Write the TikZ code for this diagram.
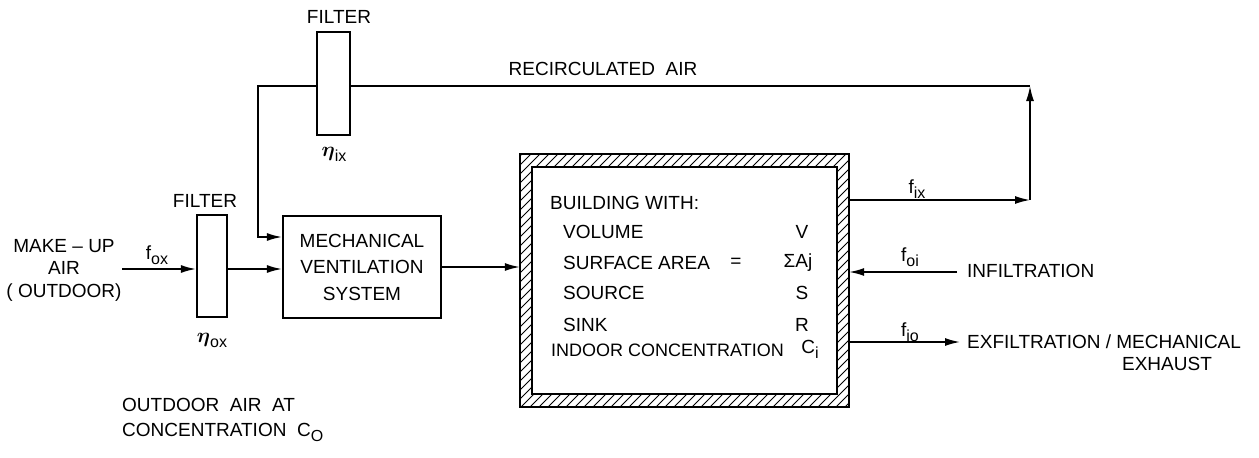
\documentclass[tikz,border=0pt]{standalone}
\usepackage{amsmath}
\usepackage{fontspec}
\setmainfont{Liberation Sans}
\usetikzlibrary{arrows.meta}
\newcommand{\lsub}[1]{\raisebox{-0.5ex}{\fontsize{16}{16}\selectfont #1}}
\newcommand{\bigeta}{{\fontsize{22}{22}\selectfont$\boldsymbol{\eta}$}}
\begin{document}
\begin{tikzpicture}[x=1pt,y=-1pt,
  lbl/.style={font=\fontsize{19}{22}\selectfont, inner sep=0pt},
  box/.style={draw, line width=2.2pt, inner sep=0pt},
  flow/.style={line width=1.6pt, -{Latex[length=15pt,width=8pt]}},
  pipe/.style={line width=1.6pt},
  hatch/.style={line width=1pt}]
\useasboundingbox (0,0) rectangle (1259,458);

% boxes
\node[box, minimum width=33pt, minimum height=103pt] (f1) at (333.5,83.5) {};
\node[box, minimum width=30pt, minimum height=102pt] (f2) at (212,266) {};
\node[box, minimum width=158pt, minimum height=102pt, align=center,
      font=\fontsize{19}{26.5}\selectfont] (mvs) at (362,267) {MECHANICAL\\VENTILATION\\SYSTEM};

% building with hatched wall
\node[minimum width=329pt, minimum height=253pt, inner sep=0pt] (bld) at (684.5,280.5) {};
\begin{scope}
  \clip (bld.north west) rectangle (bld.south east);
  \foreach \x in {257,266,...,860} \draw[hatch] (\x,410) -- (\x+263,147);
\end{scope}
\node[box, fill=white, minimum width=305pt, minimum height=227pt] (inner) at (684.5,280.5) {};
\draw[line width=2.2pt] (bld.north west) rectangle (bld.south east);

% coordinates
\coordinate (mu) at (122,269);
\coordinate (rc) at (1030,86);
\coordinate (rl) at (258,86);
\coordinate (rin) at (258,237);
\coordinate (cx) at (1030,200);
\coordinate (inf) at (957,272);
\coordinate (exf) at (960,342);

% connectors
\draw[flow] (mu) -- (mu -| f2.west);
\draw[flow] (f2.east |- mu) -- (mu -| mvs.west);
\draw[pipe] (rc) -- (f1.east |- rc);
\draw[flow] (f1.west |- rc) -- (rl) -- (rin) -- (rin -| mvs.west);
\draw[flow] (mvs.east) -- (bld.west |- mvs.east);
\draw[flow] (bld.east |- cx) -- (cx);
\draw[flow] (cx) -- (rc);
\draw[flow] (inf) -- (inf -| bld.east);
\draw[flow] (exf -| bld.east) -- (exf);

% labels
\node[lbl] (flt1) at (339,17) {FILTER};
\node[lbl] (eix) at (334,154) {\bigeta\lsub{ix}};
\node[lbl] (flt2) at (205,201) {FILTER};
\node[lbl] (eox) at (212,340) {\bigeta\lsub{ox}};
\node[lbl, align=center, font=\fontsize{19}{22.5}\selectfont] (mk) at (64,270) {MAKE -- UP\\AIR\\( OUTDOOR)};
\node[lbl] (fox) at (157,255) {f\lsub{ox}};
\node[lbl] (rca) at (603,69) {RECIRCULATED\ \ AIR};

\node[lbl, anchor=west] (bw) at (550,203) {BUILDING WITH:};
\node[lbl, anchor=west] (vol) at (563,232) {VOLUME};
\node[lbl, anchor=west] (sa) at (563,263) {SURFACE AREA};
\node[lbl] (eq) at (736,263) {=};
\node[lbl, anchor=west] (src) at (563,293) {SOURCE};
\node[lbl, anchor=west] (snk) at (563,325) {SINK};
\node[lbl, anchor=west, font=\fontsize{18}{22}\selectfont] (ic) at (551,350) {INDOOR CONCENTRATION};
\node[lbl] (vv) at (802,232) {V};
\node[lbl] (av) at (798,263) {ΣAj};
\node[lbl] (sv) at (802,293) {S};
\node[lbl] (rv) at (802,325) {R};
\node[lbl] (cv) at (810,349) {C\lsub{i}};

\node[lbl] (fix) at (917,189) {f\lsub{ix}};
\node[lbl] (foi) at (910,257) {f\lsub{oi}};
\node[lbl] (fio) at (910,332) {f\lsub{io}};
\node[lbl, anchor=west] (infl) at (967,271) {INFILTRATION};
\node[lbl, anchor=west] (exfl) at (967,342) {EXFILTRATION / MECHANICAL};
\node[lbl] (exh) at (1167,364) {EXHAUST};

\node[lbl, anchor=west] (oa1) at (122,405) {OUTDOOR\ \ AIR\ \ AT};
\node[lbl, anchor=west] (oa2) at (122,432) {CONCENTRATION\ \ C\lsub{O}};
\end{tikzpicture}
\end{document}
